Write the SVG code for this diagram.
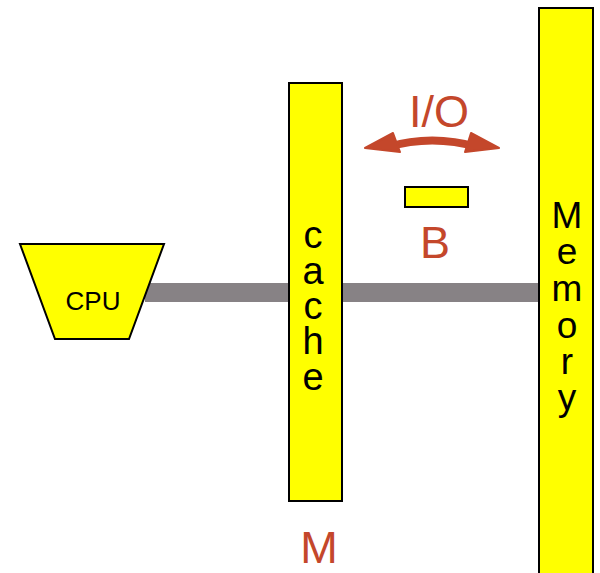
<svg xmlns="http://www.w3.org/2000/svg" width="600" height="573" viewBox="0 0 600 573">
<style>
.box{fill:#FFFF00;stroke:#000;stroke-width:2}
.lbl{font-family:"Liberation Sans",Arial,sans-serif;fill:#000;text-anchor:middle}
.red{font-family:"Liberation Sans",Arial,sans-serif;fill:#C4472B;text-anchor:middle}
</style>
<rect width="600" height="573" fill="#fff"/>
<g id="connectors">
<rect x="145" y="283" width="395" height="19" fill="#878285"/>
</g>
<g id="cpu">
<polygon class="box" points="20,244 164,244 129,339 55,339"/>
<text class="lbl" x="93" y="310" font-size="26">CPU</text>
</g>
<g id="cache">
<rect class="box" x="289" y="83" width="53" height="418"/>
<g class="lbl" font-size="38">
<text x="313" y="248">c</text>
<text x="313" y="284">a</text>
<text x="313" y="319">c</text>
<text x="313" y="354">h</text>
<text x="313" y="390">e</text>
</g>
</g>
<g id="memory">
<rect class="box" x="539" y="8" width="54" height="570"/>
<g class="lbl" font-size="37">
<text x="567" y="228">M</text>
<text x="567" y="264">e</text>
<text x="567" y="301">m</text>
<text x="567" y="338">o</text>
<text x="567" y="374">r</text>
<text x="567" y="410">y</text>
</g>
</g>
<g id="io">
<path d="M388 147 Q432 134 477 147" fill="none" stroke="#C4472B" stroke-width="8"/>
<polygon points="365,148 393,133 400,152" fill="#C4472B" stroke="#C4472B" stroke-width="2" stroke-linejoin="round"/>
<polygon points="499,148 471,133 465,152" fill="#C4472B" stroke="#C4472B" stroke-width="2" stroke-linejoin="round"/>
<text class="red" x="439" y="127" font-size="45">I/O</text>
</g>
<g id="block">
<rect class="box" x="405" y="187" width="63" height="20"/>
<text class="red" x="435" y="258" font-size="45">B</text>
</g>
<g id="m-label">
<text class="red" x="319" y="563" font-size="45">M</text>
</g>
</svg>
